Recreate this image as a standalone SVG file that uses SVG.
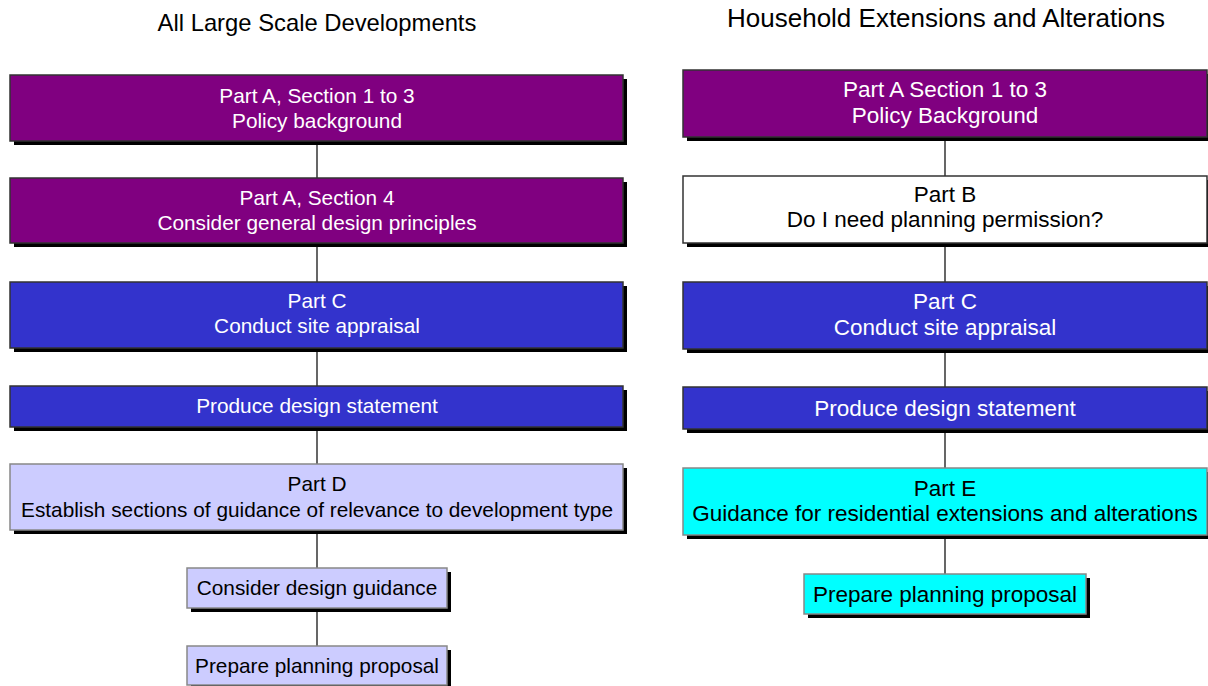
<svg xmlns="http://www.w3.org/2000/svg" width="1208" height="686" viewBox="0 0 1208 686">
<style>
  .sh { fill: #000; }
  .dk { stroke: #333; stroke-width: 1.5; }
  .lt { stroke: #888; stroke-width: 1.5; }
  .purple { fill: #800080; }
  .blue { fill: #3333CC; }
  .lav { fill: #CCCCFF; }
  .cyan { fill: #00FFFF; }
  .white { fill: #FFFFFF; }
  text { font-family: "Liberation Sans", Arial, sans-serif; text-anchor: middle; }
  .tl { font-size: 23.8px; fill: #000; }
  .tr { font-size: 26px; fill: #000; }
  .l { font-size: 20.8px; }
  .r { font-size: 22.5px; }
  .w { fill: #fff; }
  .b { fill: #000; }
  .conn line { stroke: #000; stroke-width: 1.2; }
</style>
<rect width="1208" height="686" fill="#fff"/>
<text class="tl" x="317" y="31">All Large Scale Developments</text>
<text class="tr" x="946" y="27">Household Extensions and Alterations</text>

<g id="connectors" class="conn">
  <line x1="317" y1="141" x2="317" y2="178"/>
  <line x1="317" y1="243" x2="317" y2="282"/>
  <line x1="317" y1="348" x2="317" y2="386"/>
  <line x1="317" y1="427" x2="317" y2="464"/>
  <line x1="317" y1="530" x2="317" y2="568"/>
  <line x1="317" y1="608" x2="317" y2="646"/>
  <line x1="945" y1="137" x2="945" y2="176"/>
  <line x1="945" y1="243" x2="945" y2="282"/>
  <line x1="945" y1="349" x2="945" y2="387"/>
  <line x1="945" y1="429" x2="945" y2="468"/>
  <line x1="945" y1="535" x2="945" y2="574"/>
</g>

<g id="L1">
  <rect class="sh" x="14" y="79" width="613" height="66"/>
  <rect class="purple dk" x="10" y="75" width="613" height="66"/>
  <text class="l w" x="317" y="103">Part A, Section 1 to 3</text>
  <text class="l w" x="317" y="128">Policy background</text>
</g>
<g id="L2">
  <rect class="sh" x="14" y="182" width="613" height="65"/>
  <rect class="purple dk" x="10" y="178" width="613" height="65"/>
  <text class="l w" x="317" y="205">Part A, Section 4</text>
  <text class="l w" x="317" y="230">Consider general design principles</text>
</g>
<g id="L3">
  <rect class="sh" x="14" y="286" width="613" height="66"/>
  <rect class="blue dk" x="10" y="282" width="613" height="66"/>
  <text class="l w" x="317" y="308">Part C</text>
  <text class="l w" x="317" y="333">Conduct site appraisal</text>
</g>
<g id="L4">
  <rect class="sh" x="14" y="390" width="613" height="41"/>
  <rect class="blue dk" x="10" y="386" width="613" height="41"/>
  <text class="l w" x="317" y="413">Produce design statement</text>
</g>
<g id="L5">
  <rect class="sh" x="14" y="468" width="613" height="66"/>
  <rect class="lav lt" x="10" y="464" width="613" height="66"/>
  <text class="l b" x="317" y="491">Part D</text>
  <text class="l b" x="317" y="517">Establish sections of guidance of relevance to development type</text>
</g>
<g id="L6">
  <rect class="sh" x="191" y="572" width="260" height="40"/>
  <rect class="lav lt" x="187" y="568" width="260" height="40"/>
  <text class="l b" x="317" y="595">Consider design guidance</text>
</g>
<g id="L7">
  <rect class="sh" x="191" y="650" width="260" height="39"/>
  <rect class="lav lt" x="187" y="646" width="260" height="39"/>
  <text class="l b" x="317" y="673">Prepare planning proposal</text>
</g>

<g id="R1">
  <rect class="sh" x="687" y="74" width="524" height="67"/>
  <rect class="purple dk" x="683" y="70" width="524" height="67"/>
  <text class="r w" x="945" y="97">Part A Section 1 to 3</text>
  <text class="r w" x="945" y="123">Policy Background</text>
</g>
<g id="R2">
  <rect class="sh" x="687" y="180" width="524" height="67"/>
  <rect class="white dk" x="683" y="176" width="524" height="67"/>
  <text class="r b" x="945" y="202">Part B</text>
  <text class="r b" x="945" y="227">Do I need planning permission?</text>
</g>
<g id="R3">
  <rect class="sh" x="687" y="286" width="524" height="67"/>
  <rect class="blue dk" x="683" y="282" width="524" height="67"/>
  <text class="r w" x="945" y="309">Part C</text>
  <text class="r w" x="945" y="335">Conduct site appraisal</text>
</g>
<g id="R4">
  <rect class="sh" x="687" y="391" width="524" height="42"/>
  <rect class="blue dk" x="683" y="387" width="524" height="42"/>
  <text class="r w" x="945" y="416">Produce design statement</text>
</g>
<g id="R5">
  <rect class="sh" x="687" y="472" width="524" height="67"/>
  <rect class="cyan lt" x="683" y="468" width="524" height="67"/>
  <text class="r b" x="945" y="496">Part E</text>
  <text class="r b" x="945" y="521">Guidance for residential extensions and alterations</text>
</g>
<g id="R6">
  <rect class="sh" x="808" y="578" width="282" height="40"/>
  <rect class="cyan lt" x="804" y="574" width="282" height="40"/>
  <text class="r b" x="945" y="602">Prepare planning proposal</text>
</g>
</svg>
